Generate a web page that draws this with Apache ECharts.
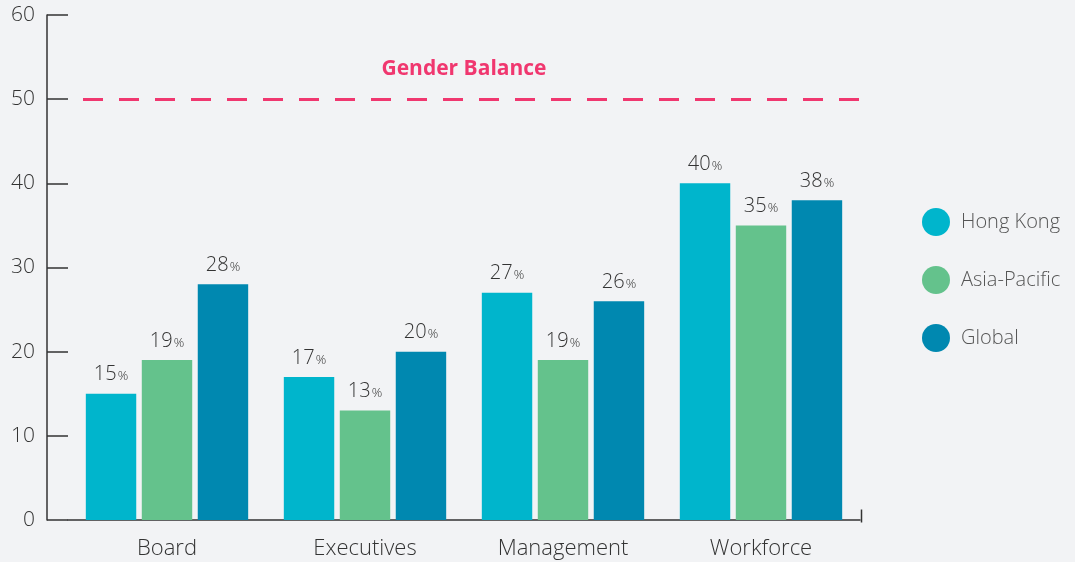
<!DOCTYPE html>
<html>
<head>
<meta charset="utf-8">
<script src="https://cdn.jsdelivr.net/npm/echarts@6/dist/echarts.min.js"></script>
<style>
  html, body { margin: 0; padding: 0; background: #f2f3f5; }
  #chart { width: 1075px; height: 562px; }
</style>
</head>
<body>
<div id="chart"></div>
<script>
// categories and values (% women)
const categories = ['Board', 'Executives', 'Management', 'Workforce']
const hongKong = [15, 17, 27, 40]
const asiaPacific = [19, 13, 19, 35]
const globalVals = [28, 20, 26, 38]
const yTicks = [0, 10, 20, 30, 40, 50, 60]
const balanceLevel = 50

const font = '"Open Sans", Lato, sans-serif'
const myChart = echarts.init(document.getElementById('chart'))

// label like "40%" with a smaller percent sign
const barLabel = {
    show: true,
    position: 'top',
    distance: 9,
    formatter: '{v|{c}}{p|%}',
    rich: {
        v: { fontSize: 20, color: '#333', fontFamily: font, fontWeight: 300 },
        p: { fontSize: 13, color: '#333', fontFamily: font, fontWeight: 300, padding: [4, 0, 0, 1] }
    }
}

const makeSeries = (name, data, color) => ({
    name: name,
    type: 'bar',
    barGap: '11%',
    barCategoryGap: '18%',
    itemStyle: { color: color },
    label: barLabel,
    data: data
})

const series = [
    makeSeries('Hong Kong', hongKong, '#00b5cc'),
    makeSeries('Asia-Pacific', asiaPacific, '#64c28c'),
    makeSeries('Global', globalVals, '#0088b0')
]
// gender balance line
series[0].markLine = {
    silent: true,
    symbol: 'none',
    lineStyle: { color: '#f0376f', width: 3, type: [20, 16], dashOffset: -15 },
    label: {
        show: true,
        position: 'middle',
        distance: 20,
        formatter: 'Gender Balance',
        color: '#f0376f',
        fontSize: 21,
        fontWeight: 'bold',
        fontFamily: font
    },
    data: [{ yAxis: balanceLevel }]
}

const option = {
    backgroundColor: '#f2f3f5',
    textStyle: { fontFamily: font },
    grid: { left: 68, right: 215, top: 15, bottom: 42 },
    legend: {
        orient: 'vertical',
        left: 917,
        top: 203,
        icon: 'circle',
        itemWidth: 28,
        itemHeight: 28,
        itemGap: 30,
        textStyle: { fontSize: 20, color: '#555', fontFamily: font, fontWeight: 300, padding: [0, 0, 0, 6] },
        data: ['Hong Kong', 'Asia-Pacific', 'Global']
    },
    xAxis: {
        type: 'category',
        data: categories,
        axisLine: { lineStyle: { color: '#333', width: 1.5 } },
        axisTick: { show: false },
        axisLabel: { fontSize: 22, color: '#333', margin: 18, fontFamily: font, fontWeight: 300 }
    },
    yAxis: {
        type: 'value',
        min: yTicks[0],
        max: yTicks[yTicks.length - 1],
        interval: 10,
        offset: 21,
        splitLine: { show: false },
        axisLine: { show: true, lineStyle: { color: '#333', width: 1.5 } },
        axisTick: { show: true, inside: true, length: 21, lineStyle: { color: '#333', width: 1.5 } },
        axisLabel: { fontSize: 21, color: '#333', margin: 12, fontFamily: font, fontWeight: 300 }
    },
    // small closing tick at the right end of the x axis
    graphic: [{
        type: 'line',
        left: 859,
        top: 507,
        shape: { x1: 0, y1: 0, x2: 0, y2: 13 },
        style: { stroke: '#333', lineWidth: 1.5 }
    }],
    series: series
}
myChart.setOption(option)
</script>
</body>
</html>
